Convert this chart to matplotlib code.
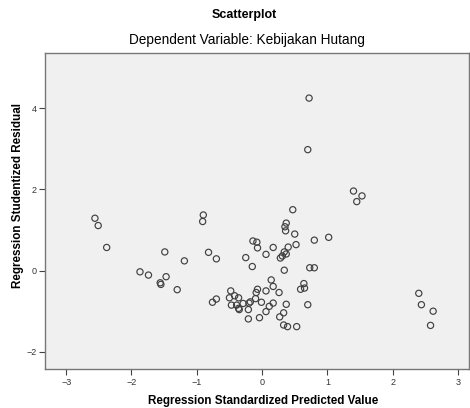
import matplotlib.pyplot as plt

plt.rcParams['font.family'] = ['Liberation Sans', 'DejaVu Sans']

# Regression Standardized Predicted Value
pred = [-2.56, -2.51, -2.38, -1.49, -1.19, -1.87, -1.74, -1.47, -1.56, -1.55, -1.30,
        -0.90, -0.91, 0.47, 0.37, 0.35, 0.36, 0.50, 0.80, 1.02,
        -0.14, -0.08, -0.07, 0.17, 0.40, 0.52, 0.06, 0.34, 0.37, 0.31, 0.28,
        -0.25, -0.82, -0.70, -0.15, 0.34, 0.73, 0.80,
        0.14, 0.17, 0.26, 0.06, -0.07, -0.09, -0.10, -0.01, 0.17, 0.11, 0.06,
        -0.04, -0.21, -0.21, -0.18, -0.20, -0.29, -0.36, -0.42, -0.48, -0.50,
        -0.47, -0.39, -0.36, -0.35, -0.70, -0.76,
        0.64, 0.65, 0.59, 0.70, 0.37, 0.33, 0.27, 0.33, 0.39, 0.53,
        1.40, 1.53, 1.45, 2.40, 2.44, 2.62, 2.58, 0.72, 0.70]
# Regression Studentized Residual
resid = [1.29, 1.11, 0.57, 0.46, 0.24, -0.03, -0.11, -0.15, -0.30, -0.34, -0.47,
         1.37, 1.21, 1.50, 1.17, 1.08, 0.98, 0.90, 0.75, 0.82,
         0.73, 0.70, 0.56, 0.57, 0.58, 0.64, 0.40, 0.46, 0.41, 0.36, 0.31,
         0.32, 0.45, 0.29, 0.10, 0.01, 0.07, 0.07,
         -0.23, -0.39, -0.54, -0.50, -0.46, -0.54, -0.69, -0.78, -0.80, -0.88, -1.01,
         -1.16, -1.19, -0.96, -0.77, -0.80, -0.81, -0.67, -0.62, -0.50, -0.67,
         -0.85, -0.85, -0.93, -0.96, -0.70, -0.78,
         -0.32, -0.43, -0.46, -0.84, -0.83, -1.04, -1.14, -1.34, -1.38, -1.38,
         1.96, 1.84, 1.70, -0.56, -0.84, -1.00, -1.35, 4.25, 2.98]

xticks = [-3, -2, -1, 0, 1, 2, 3]
yticks = [-2, 0, 2, 4]

fig = plt.figure(figsize=(4.7, 4.08), dpi=100)
ax = fig.add_axes([0.095, 0.095, 0.903, 0.776])
ax.set_facecolor('#f0f0f0')
ax.scatter(pred, resid, s=20, facecolors='none', edgecolors='#404040', linewidths=0.85)

ax.set_xlim(-3.33, 3.17)
ax.set_ylim(-2.43, 5.37)
ax.set_xticks(xticks)
ax.set_yticks(yticks)
ax.tick_params(labelsize=6.5, length=4, width=0.8, color='#444444', labelcolor='#333333', pad=2)
for sp in ax.spines.values():
    sp.set_color('#777777')
    sp.set_linewidth(1.0)

fig.text(0.52, 0.963, 'Scatterplot', ha='center', va='center', fontsize=9, fontweight='bold')
fig.text(0.525, 0.902, 'Dependent Variable: Kebijakan Hutang', ha='center', va='center', fontsize=9.8)
fig.text(0.56, 0.017, 'Regression Standardized Predicted Value', ha='center', va='center',
         fontsize=8.4, fontweight='bold')
fig.text(0.038, 0.52, 'Regression Studentized Residual', ha='center', va='center',
         fontsize=8.4, fontweight='bold', rotation=90)

fig.savefig('out.png', dpi=100)
